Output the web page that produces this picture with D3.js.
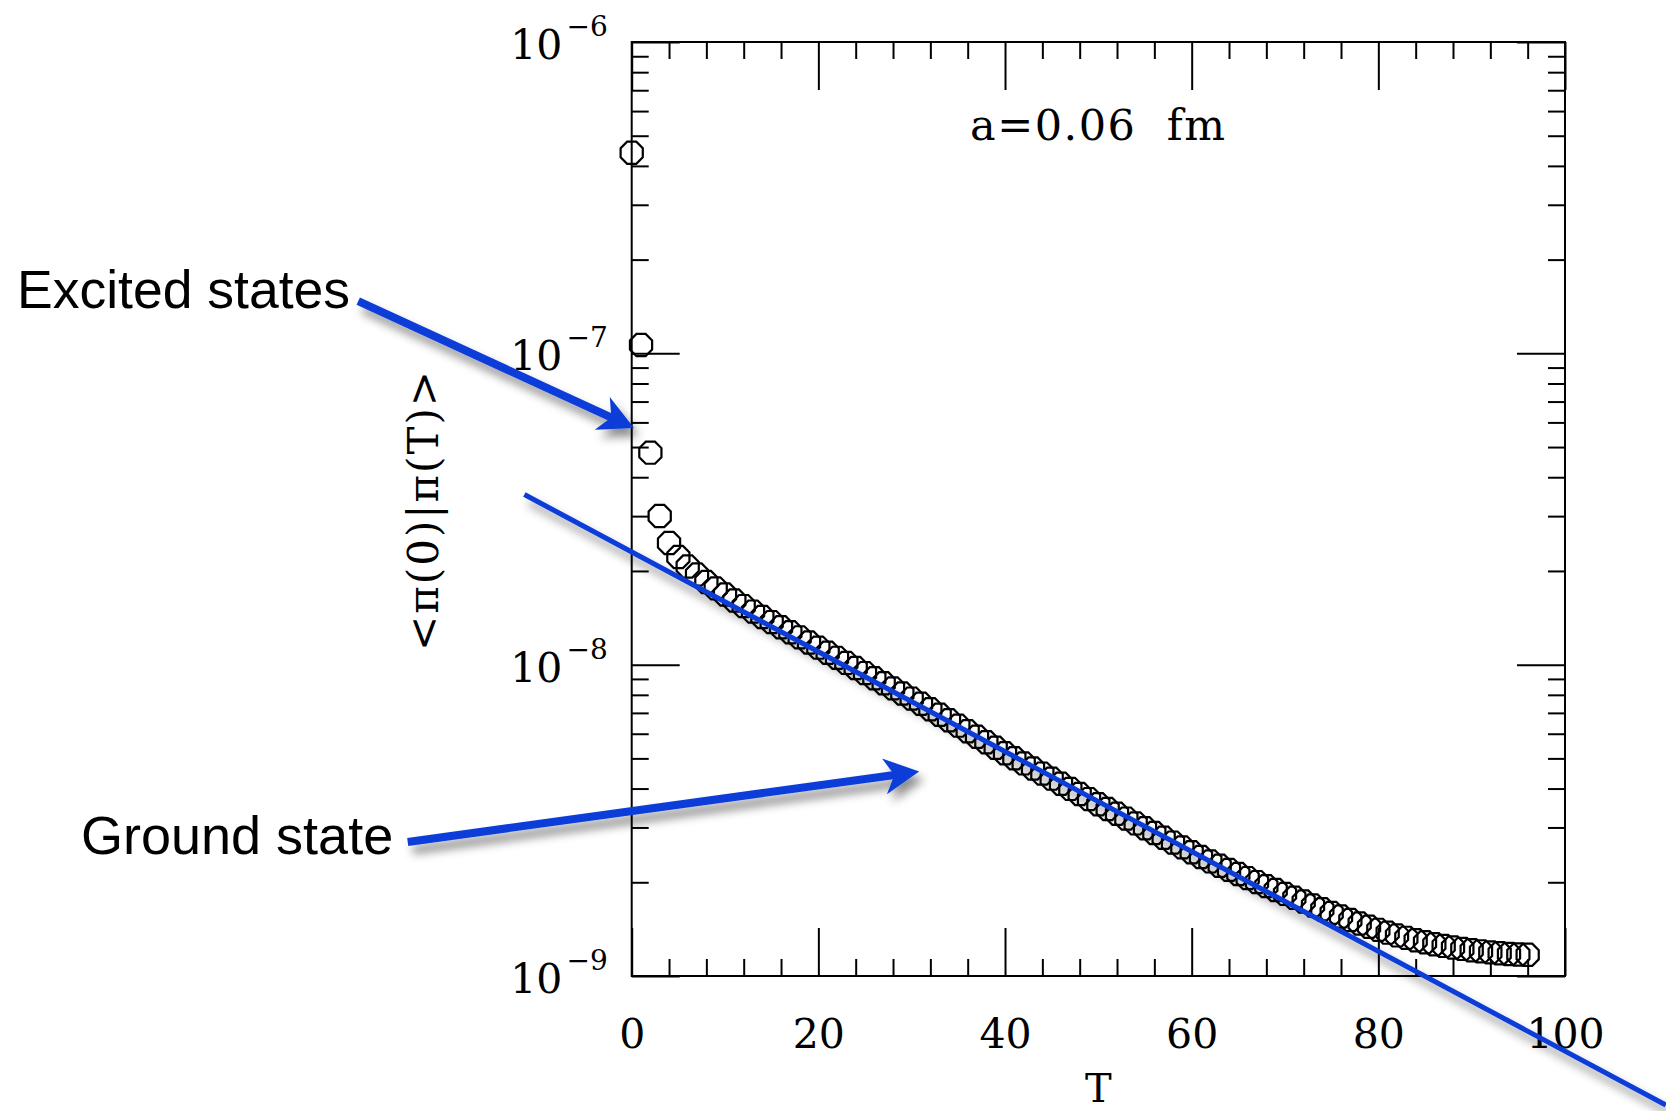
<!DOCTYPE html>
<html>
<head>
<meta charset="utf-8">
<script src="https://cdn.jsdelivr.net/npm/d3@7"></script>
<style>
  html, body { margin: 0; padding: 0; background: #fff; }
  svg { display: block; }
</style>
</head>
<body>
<svg id="chart" width="1666" height="1111"></svg>
<script>
// Pion correlator <pi(0)|pi(T)> versus Euclidean time T, lattice spacing a = 0.06 fm
const timeSlices = d3.range(0, 97);
const correlator = [
  4.41e-7, 1.064e-7, 4.796e-8, 3.002e-8, 2.459e-8, 2.217e-8, 2.067e-8, 1.948e-8, 1.843e-8, 1.758e-8,
  1.680e-8, 1.608e-8, 1.542e-8, 1.481e-8, 1.423e-8, 1.370e-8, 1.319e-8, 1.271e-8, 1.224e-8, 1.178e-8,
  1.134e-8, 1.092e-8, 1.052e-8, 1.013e-8, 9.757e-9, 9.396e-9, 9.048e-9, 8.712e-9, 8.391e-9, 8.080e-9,
  7.780e-9, 7.492e-9, 7.193e-9, 6.907e-9, 6.631e-9, 6.368e-9, 6.113e-9, 5.869e-9, 5.636e-9, 5.411e-9,
  5.195e-9, 5.003e-9, 4.818e-9, 4.640e-9, 4.468e-9, 4.303e-9, 4.143e-9, 3.990e-9, 3.842e-9, 3.700e-9,
  3.563e-9, 3.439e-9, 3.319e-9, 3.203e-9, 3.091e-9, 2.983e-9, 2.879e-9, 2.779e-9, 2.682e-9, 2.589e-9,
  2.498e-9, 2.411e-9, 2.334e-9, 2.261e-9, 2.192e-9, 2.126e-9, 2.063e-9, 2.003e-9, 1.944e-9, 1.889e-9,
  1.835e-9, 1.784e-9, 1.735e-9, 1.685e-9, 1.639e-9, 1.595e-9, 1.553e-9, 1.513e-9, 1.475e-9, 1.440e-9,
  1.407e-9, 1.378e-9, 1.350e-9, 1.326e-9, 1.303e-9, 1.283e-9, 1.265e-9, 1.249e-9, 1.235e-9, 1.222e-9,
  1.210e-9, 1.200e-9, 1.191e-9, 1.183e-9, 1.177e-9, 1.172e-9, 1.170e-9
];

// Single-exponential ground-state line (straight on the log axis)
const fitT = [-11.5, 110.8];
const fitValue = [3.52e-8, 3.85e-10];

// Axis ticks
const xMajorTicks = [0, 20, 40, 60, 80, 100];
const xMinorTicks = [4, 8, 12, 16, 24, 28, 32, 36, 44, 48, 52, 56, 64, 68, 72, 76, 84, 88, 92, 96];
const yMajorTicks = [1e-9, 1e-8, 1e-7, 1e-6];
const yExponents = ["\u22129", "\u22128", "\u22127", "\u22126"];
const yMinorMantissas = [2, 3, 4, 5, 6, 7, 8, 9];

// Annotation arrows: [T, value] of tail and tip
const annotationText = ["Excited states", "Ground state"];
const annotationFrom = [[-29.3, 1.472e-7], [-24.0, 2.694e-9]];
const annotationTo = [[0.25, 5.756e-8], [30.8, 4.537e-9]];

const infoText = "a=0.06\u00a0 fm";
const xTitle = "T";
const yTitle = "<\u03c0(0)|\u03c0(T)>";

// ---------------------------------------------------------------
const svg = d3.select("#chart");
const plotLeft = 631.7, plotRight = 1565, plotTop = 42, plotBottom = 976;
const x = d3.scaleLinear().domain([0, 100]).range([plotLeft, plotRight]);
const y = d3.scaleLog().domain([1e-9, 1e-6]).range([plotBottom, plotTop]);

const serif = "'DejaVu Serif', serif";
const sans = "'Liberation Sans', Arial, sans-serif";
const blue = "#0b3cd8";

svg.append("rect").attr("width", 1666).attr("height", 1111).attr("fill", "#fff");

const defs = svg.append("defs");
const shadow = defs.append("filter").attr("id", "shadow")
  .attr("x", "-20%").attr("y", "-20%").attr("width", "140%").attr("height", "160%");
shadow.append("feDropShadow")
  .attr("dx", 5).attr("dy", 8).attr("stdDeviation", 5)
  .attr("flood-color", "#000").attr("flood-opacity", 0.45);

const yMinorTicks = [];
yMajorTicks.slice(0, 3).forEach(d => yMinorMantissas.forEach(m => yMinorTicks.push(d * m)));

function styleAxis(g) {
  g.select(".domain").remove();
  g.selectAll(".tick line").attr("stroke", "#000").attr("stroke-width", 2);
}

// Bottom axis with labels
const gBottom = svg.append("g").attr("transform", `translate(0,${plotBottom})`)
  .call(d3.axisBottom(x).tickValues(xMajorTicks).tickSizeInner(-48).tickSizeOuter(0)
    .tickPadding(43).tickFormat(d3.format("d")));
styleAxis(gBottom);
gBottom.selectAll("text").attr("font-family", serif).attr("font-size", 41).attr("fill", "#000");
svg.append("g").attr("transform", `translate(0,${plotBottom})`)
  .call(d3.axisBottom(x).tickValues(xMinorTicks).tickSizeInner(-17).tickSizeOuter(0).tickFormat(""))
  .call(styleAxis);

// Top axis
svg.append("g").attr("transform", `translate(0,${plotTop})`)
  .call(d3.axisTop(x).tickValues(xMajorTicks).tickSizeInner(-48).tickSizeOuter(0).tickFormat(""))
  .call(styleAxis);
svg.append("g").attr("transform", `translate(0,${plotTop})`)
  .call(d3.axisTop(x).tickValues(xMinorTicks).tickSizeInner(-17).tickSizeOuter(0).tickFormat(""))
  .call(styleAxis);

// Left axis with power-of-ten labels
const gLeft = svg.append("g").attr("transform", `translate(${plotLeft},0)`)
  .call(d3.axisLeft(y).tickValues(yMajorTicks).tickSizeInner(-48).tickSizeOuter(0).tickPadding(24)
    .tickFormat(() => ""));
styleAxis(gLeft);
gLeft.selectAll(".tick text")
  .attr("font-family", serif).attr("font-size", 41).attr("fill", "#000").attr("dy", "0.4em")
  .each(function(d, i) {
    const t = d3.select(this);
    t.append("tspan").text("10");
    t.append("tspan").attr("font-size", 28).attr("dx", 4).attr("dy", -23).text(yExponents[i]);
  });
svg.append("g").attr("transform", `translate(${plotLeft},0)`)
  .call(d3.axisLeft(y).tickValues(yMinorTicks).tickSizeInner(-17).tickSizeOuter(0).tickFormat(""))
  .call(styleAxis);

// Right axis
svg.append("g").attr("transform", `translate(${plotRight},0)`)
  .call(d3.axisRight(y).tickValues(yMajorTicks).tickSizeInner(-48).tickSizeOuter(0).tickFormat(""))
  .call(styleAxis);
svg.append("g").attr("transform", `translate(${plotRight},0)`)
  .call(d3.axisRight(y).tickValues(yMinorTicks).tickSizeInner(-17).tickSizeOuter(0).tickFormat(""))
  .call(styleAxis);

// Frame
svg.append("rect")
  .attr("x", plotLeft).attr("y", plotTop).attr("width", plotRight - plotLeft).attr("height", plotBottom - plotTop)
  .attr("fill", "none").attr("stroke", "#000").attr("stroke-width", 2);

// Axis titles
svg.append("text")
  .attr("x", x(50)).attr("y", 1102)
  .attr("text-anchor", "middle")
  .attr("font-family", serif).attr("font-size", 40).attr("fill", "#000")
  .text(xTitle);
svg.append("text")
  .attr("transform", `translate(438,510) rotate(-90)`)
  .attr("text-anchor", "middle")
  .attr("font-family", serif).attr("font-size", 42).attr("letter-spacing", 2).attr("fill", "#000")
  .text(yTitle);

// Lattice spacing note
svg.append("text")
  .attr("x", 970).attr("y", 140)
  .attr("font-family", serif).attr("font-size", 43).attr("letter-spacing", 1.5).attr("fill", "#000")
  .style("white-space", "pre")
  .text(infoText);

// Octagon markers
const markerR = 12;
const octagon = d3.line()(d3.range(8).map(k => {
  const a = Math.PI / 8 + k * Math.PI / 4;
  return [markerR * Math.cos(a), markerR * Math.sin(a)];
})) + "Z";
svg.append("g").selectAll("path")
  .data(timeSlices.map((t, i) => ({ t, v: correlator[i] })))
  .join("path")
  .attr("d", octagon)
  .attr("transform", d => `translate(${x(d.t)},${y(d.v)})`)
  .attr("fill", "none").attr("stroke", "#000").attr("stroke-width", 2.2);

// Ground-state line
svg.append("path")
  .datum(fitT.map((t, i) => [t, fitValue[i]]))
  .attr("d", d3.line().x(d => x(d[0])).y(d => y(d[1])))
  .attr("fill", "none").attr("stroke", blue).attr("stroke-width", 5)
  .attr("filter", "url(#shadow)");

// Annotations
const headLen = 35, headHalf = 18, notch = 25;
annotationText.forEach((label, i) => {
  const p0 = [x(annotationFrom[i][0]), y(annotationFrom[i][1])];
  const p1 = [x(annotationTo[i][0]), y(annotationTo[i][1])];
  const dx = p1[0] - p0[0], dy = p1[1] - p0[1];
  const len = Math.hypot(dx, dy);
  const ux = dx / len, uy = dy / len, px = -uy, py = ux;
  const base = [p1[0] - headLen * ux, p1[1] - headLen * uy];
  const nPt = [p1[0] - notch * ux, p1[1] - notch * uy];
  const g = svg.append("g").attr("filter", "url(#shadow)");
  g.append("line")
    .attr("x1", p0[0]).attr("y1", p0[1]).attr("x2", nPt[0] + ux * 2).attr("y2", nPt[1] + uy * 2)
    .attr("stroke", blue).attr("stroke-width", 8);
  g.append("path")
    .attr("d", d3.line()([
      p1,
      [base[0] + headHalf * px, base[1] + headHalf * py],
      nPt,
      [base[0] - headHalf * px, base[1] - headHalf * py]
    ]) + "Z")
    .attr("fill", blue);
});

svg.append("text")
  .attr("x", 17).attr("y", 308)
  .attr("font-family", sans).attr("font-size", 53.5).attr("fill", "#000")
  .text(annotationText[0]);
svg.append("text")
  .attr("x", 81).attr("y", 854)
  .attr("font-family", sans).attr("font-size", 54).attr("fill", "#000")
  .text(annotationText[1]);
</script>
</body>
</html>
